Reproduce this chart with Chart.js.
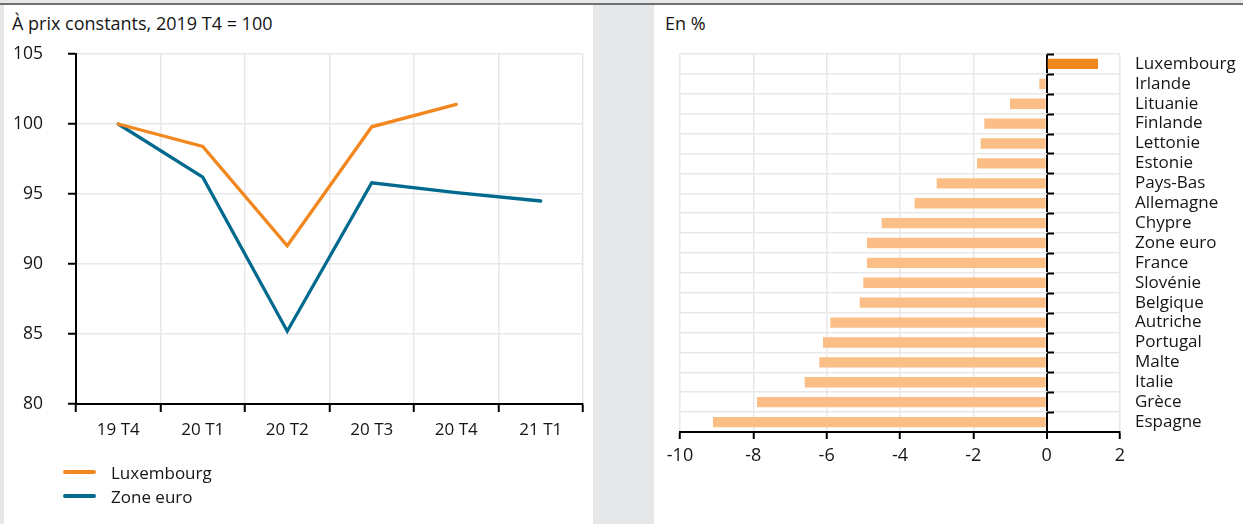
<!DOCTYPE html>
<html lang="fr">
<head>
<meta charset="utf-8">
<title>PIB : Luxembourg et zone euro</title>
<script src="https://cdn.jsdelivr.net/npm/chart.js@4.4.1/dist/chart.umd.min.js"></script>
<style>
  html, body { margin: 0; padding: 0; }
  body {
    width: 1243px; height: 524px; position: relative; overflow: hidden;
    background: #e6e7e8; font-family: "Open Sans", sans-serif; color: #151515;
  }
  #topRule { position: absolute; left: 0; top: 3px; width: 1243px; height: 2px; background: #6f7072; }
  .panel { position: absolute; top: 5px; width: 589px; height: 519px; background: #fff; }
  #panelLeft { left: 4px; }
  #panelRight { left: 654px; }
  .panel canvas { position: absolute; left: 0; top: 0; }
  .subtitle { position: absolute; top: 9px; font-size: 18px; line-height: 18px; white-space: nowrap; }
  #legend { position: absolute; left: 59px; top: 455px; font-size: 17px; }
  #legend .item { display: flex; align-items: center; height: 24px; }
  #legend .swatch { width: 33px; height: 3.5px; border-radius: 2px; margin-right: 15px; }
</style>
</head>
<body>
<div id="topRule"></div>

<div class="panel" id="panelLeft">
  <div class="subtitle" style="left:8px">À prix constants, 2019 T4 = 100</div>
  <canvas id="indexChart" width="589" height="519"></canvas>
  <div id="legend"></div>
</div>

<div class="panel" id="panelRight">
  <div class="subtitle" style="left:11px">En %</div>
  <canvas id="changeChart" width="589" height="519"></canvas>
</div>

<script>
// Quarterly GDP index, constant prices (2019 T4 = 100)
const quarters = ['19 T4', '20 T1', '20 T2', '20 T3', '20 T4', '21 T1'];
const luxembourgIndex = [100, 98.4, 91.3, 99.8, 101.4, null];
const euroAreaIndex = [100, 96.2, 85.2, 95.8, 95.1, 94.5];
const indexTicks = [80, 85, 90, 95, 100, 105];

// Change in GDP by country, in %
const countries = ['Luxembourg', 'Irlande', 'Lituanie', 'Finlande', 'Lettonie', 'Estonie',
  'Pays-Bas', 'Allemagne', 'Chypre', 'Zone euro', 'France', 'Slovénie', 'Belgique',
  'Autriche', 'Portugal', 'Malte', 'Italie', 'Grèce', 'Espagne'];
const gdpChange = [1.4, -0.2, -1.0, -1.7, -1.8, -1.9, -3.0, -3.6, -4.5, -4.9, -4.9,
  -5.0, -5.1, -5.9, -6.1, -6.2, -6.6, -7.9, -9.1];
const changeTicks = [-10, -8, -6, -4, -2, 0, 2];

const ORANGE = '#f3871f';
const BLUE = '#006a8e';
const LIGHT_ORANGE = '#fbbe86';
const GRID = '#e8e8e8';
const INK = '#151515';
const FONT = '"Open Sans", sans-serif';

const seriesMeta = [
  { label: 'Luxembourg', data: luxembourgIndex, color: ORANGE },
  { label: 'Zone euro', data: euroAreaIndex, color: BLUE }
];

// Legend below the line chart
const legendEl = document.getElementById('legend');
seriesMeta.forEach(s => {
  const row = document.createElement('div');
  row.className = 'item';
  const sw = document.createElement('span');
  sw.className = 'swatch';
  sw.style.background = s.color;
  const tx = document.createElement('span');
  tx.textContent = s.label;
  row.appendChild(sw);
  row.appendChild(tx);
  legendEl.appendChild(row);
});

new Chart(document.getElementById('indexChart'), {
  type: 'line',
  data: {
    labels: quarters,
    datasets: seriesMeta.map(s => ({
      label: s.label,
      data: s.data,
      borderColor: s.color,
      backgroundColor: s.color,
      borderWidth: 3.3,
      pointRadius: 0,
      tension: 0,
      spanGaps: true,
      borderCapStyle: 'round',
      borderJoinStyle: 'miter'
    }))
  },
  options: {
    responsive: false,
    animation: false,
    layout: { padding: { left: 0, top: 49, right: 10, bottom: 70 } },
    plugins: { legend: { display: false }, tooltip: { enabled: false } },
    scales: {
      x: {
        type: 'category',
        offset: true,
        grid: { offset: true, color: GRID, lineWidth: 1.5, tickColor: '#000', tickWidth: 2, tickLength: 8 },
        border: { color: '#000', width: 2 },
        ticks: { color: INK, font: { family: FONT, size: 17 }, padding: 8, maxRotation: 0, autoSkip: false },
        afterFit: s => { s.height = 50; }
      },
      y: {
        min: indexTicks[0],
        max: indexTicks[indexTicks.length - 1],
        afterBuildTicks: s => { s.ticks = indexTicks.map(v => ({ value: v })); },
        grid: { color: GRID, lineWidth: 1.5, tickColor: '#000', tickWidth: 2, tickLength: 8 },
        border: { color: '#000', width: 2 },
        ticks: { color: INK, font: { family: FONT, size: 17.5 }, padding: 25 },
        afterFit: s => { s.width = 72; }
      }
    }
  }
});

// Short marks along the zero line, at the boundaries between countries
const zeroLineTicks = {
  id: 'zeroLineTicks',
  afterDatasetsDraw(chart) {
    const { ctx, scales: { x, y } } = chart;
    const x0 = Math.round(x.getPixelForValue(0));
    ctx.save();
    ctx.strokeStyle = '#000';
    ctx.lineWidth = 2;
    ctx.beginPath();
    for (let i = 0; i < y.ticks.length; i++) {
      const yb = Math.round(y.getPixelForValue(i - 0.5)) + 0.5;
      ctx.moveTo(x0, yb);
      ctx.lineTo(x0 + 7, yb);
    }
    ctx.stroke();
    ctx.restore();
  }
};

new Chart(document.getElementById('changeChart'), {
  type: 'bar',
  data: {
    labels: countries,
    datasets: [{
      data: gdpChange,
      backgroundColor: ctx => countries[ctx.dataIndex] === 'Luxembourg' ? ORANGE : LIGHT_ORANGE,
      borderWidth: 0,
      categoryPercentage: 1,
      barPercentage: 0.52
    }]
  },
  options: {
    indexAxis: 'y',
    responsive: false,
    animation: false,
    layout: { padding: { left: 26, top: 49, right: 0, bottom: 52 } },
    plugins: { legend: { display: false }, tooltip: { enabled: false } },
    scales: {
      x: {
        min: changeTicks[0],
        max: changeTicks[changeTicks.length - 1],
        afterBuildTicks: s => { s.ticks = changeTicks.map(v => ({ value: v })); },
        grid: {
          color: c => c.tick && c.tick.value === 0 ? '#000' : GRID,
          lineWidth: c => c.tick && c.tick.value === 0 ? 2 : 1.5,
          tickColor: '#000', tickWidth: 2, tickLength: 7
        },
        border: { color: '#000', width: 2 },
        ticks: { color: INK, font: { family: FONT, size: 18 }, padding: 6 },
        afterFit: s => { s.height = 40; }
      },
      y: {
        position: 'right',
        offset: true,
        grid: { offset: true, color: GRID, lineWidth: 1.5, drawTicks: false },
        border: { display: false },
        ticks: { color: INK, font: { family: FONT, size: 17 }, padding: 15, autoSkip: false },
        afterFit: s => { s.width = 123; }
      }
    }
  },
  plugins: [zeroLineTicks]
});
</script>
</body>
</html>
